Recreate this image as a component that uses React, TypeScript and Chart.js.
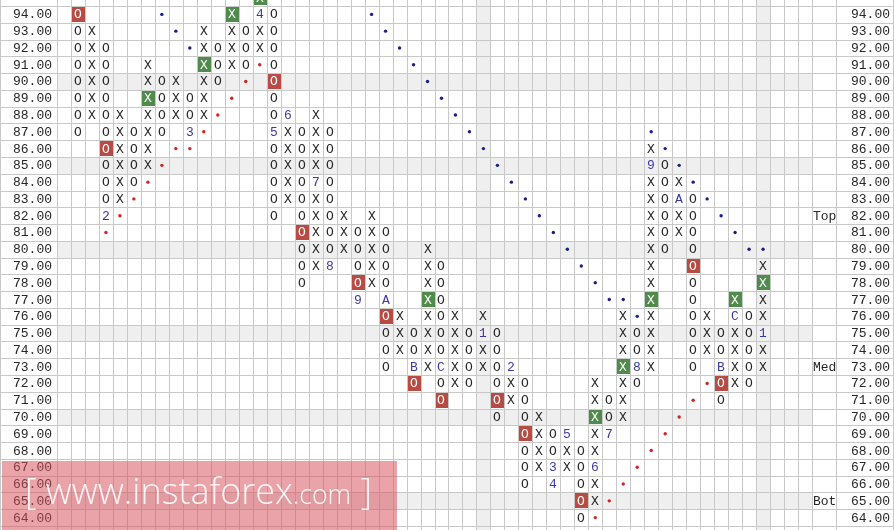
import { useEffect, useRef } from 'react';
import { Chart, registerables } from 'chart.js';

Chart.register(...registerables);

// Price levels (rows) shown on both axes
const priceLevels = [94, 93, 92, 91, 90, 89, 88, 87, 86, 85, 84, 83, 82, 81, 80, 79, 78, 77, 76, 75, 74, 73, 72, 71, 70, 69, 68, 67, 66, 65, 64];

// Point & figure columns: top price of each column and its cells from the top down.
// X / O = normal marks, x = highlighted X (green box), o = highlighted O (red box),
// digits / letters = month markers that replace a mark.
const columnTops = [0, 94, 93, 92, 88, 87, 91, 90, 90, 89, 93, 92, 94, 93, 95, 94, 88, 87, 88, 87, 82, 81, 82, 81, 76, 75, 80, 79, 76, 75, 76, 75, 73, 72, 70, 69, 69, 68, 72, 71, 76, 75, 86, 85, 84, 83, 76, 75, 77, 76, 79];
const columnCells = [
  '', 'oOOOOOOO', 'XXXXXX', 'OOOOOOoOOO2', 'XXXXXX', 'OOOO', 'XXxXXXX', 'OOOO', 'XXX', 'OO3',
  'XXxXXX', 'OOO', 'xXXX', 'OOO', 'x4XX', 'OOOOoOO5OOOOO', '6XXXXX', 'OOOOOOoOOO', 'XXXX7XXXXX', 'OOOOOOOO8',
  'XXX', 'OOOo9', 'XXXXX', 'OOOOAoOOO', 'XXX', 'OOBo', 'XXXxXXXX', 'OOOOOOCOo', 'XXXXX', 'OOOO',
  'X1XX', 'OOOOoO', '2XX', 'OOOoOOO', 'XXXX', 'OO34', '5XX', 'OOOoO', 'XXxXX6XX', 'OO7',
  'XXXxXXX', 'OO8O', 'X9XXXXXXXxXXXX', 'OOOOOO', 'XAXX', 'OOOOoOOOOOO', 'XXX', 'OOBoO', 'xCXXXX', 'OOOOO',
  'XxXX1XX',
];

// Trend line dots [column, price]
const resistanceDots: [number, number][] = [
  [7, 94], [8, 93], [9, 92],
  [22, 94], [23, 93], [24, 92], [25, 91], [26, 90], [27, 89], [28, 88], [29, 87], [30, 86], [31, 85], [32, 84],
  [33, 83], [34, 82], [35, 81], [36, 80], [37, 79], [38, 78], [39, 77], [40, 77], [41, 76],
  [42, 87], [43, 86], [44, 85], [45, 84], [46, 83], [47, 82], [48, 81], [49, 80], [50, 80],
];
const supportDots: [number, number][] = [
  [3, 81], [4, 82], [5, 83], [6, 84], [7, 85], [8, 86], [9, 86], [10, 87], [11, 88], [12, 89], [13, 90], [14, 91],
  [38, 64], [39, 65], [40, 66], [41, 67], [42, 68], [43, 69], [44, 70], [45, 71], [46, 72],
];

const shadedRows = [90, 85, 80, 75, 70, 65];
const shadedCols = [30, 50];
const zoneLabels: [string, number][] = [['Top', 82], ['Med', 73], ['Bot', 65]];
const columnCount = 54;

const MONO = "'Liberation Mono', 'Courier New', monospace";

type Cell = { x: number; y: number; s: string };
const allCells: Cell[] = [];
columnCells.forEach((str, c) => {
  const top = columnTops[c];
  str.split('').forEach((s, i) => allCells.push({ x: c, y: top - i, s }));
});

const glyphKinds: Record<string, { color: string; bg?: string; text?: string }> = {
  X: { color: '#262626' },
  O: { color: '#262626' },
  green: { color: '#ffffff', bg: '#4f8b4b', text: 'X' },
  red: { color: '#ffffff', bg: '#b84c45', text: 'O' },
  month: { color: '#3a3aa6' },
};

const pnfPlugin = {
  id: 'pnf',
  beforeDraw(chart: any) {
    const { ctx, chartArea: a, scales } = chart;
    const x = scales.x, y = scales.y;
    const W = chart.width, H = chart.height;
    ctx.save();
    ctx.fillStyle = '#ffffff';
    ctx.fillRect(0, 0, W, H);
    ctx.fillStyle = '#efefef';
    for (const p of shadedRows) {
      const y0 = Math.round(y.getPixelForValue(p + 0.5));
      const y1 = Math.round(y.getPixelForValue(p - 0.5));
      ctx.fillRect(a.left, y0, a.right - a.left, y1 - y0);
    }
    for (const c of shadedCols) {
      const x0 = Math.round(x.getPixelForValue(c - 0.5));
      const x1 = Math.round(x.getPixelForValue(c + 0.5));
      ctx.fillRect(x0, 0, x1 - x0, H);
    }
    ctx.strokeStyle = '#c8c8c8';
    ctx.lineWidth = 1;
    ctx.beginPath();
    for (let p = 63; p <= 95; p++) {
      const yy = Math.round(y.getPixelForValue(p + 0.5)) + 0.5;
      ctx.moveTo(0, yy);
      ctx.lineTo(W, yy);
    }
    for (let c = 0; c <= columnCount; c++) {
      const xx = Math.round(x.getPixelForValue(c - 0.5)) + 0.5;
      ctx.moveTo(xx, 0);
      ctx.lineTo(xx, H);
    }
    const edges = [0.5, Math.round(a.right + 24) + 0.5, W - 0.5];
    for (const e of edges) {
      ctx.moveTo(e, 0);
      ctx.lineTo(e, H);
    }
    ctx.stroke();

    // price labels on both sides, positioned by the y scale
    ctx.font = `13px ${MONO}`;
    ctx.fillStyle = '#262626';
    ctx.textBaseline = 'middle';
    for (const p of priceLevels) {
      const yy = Math.round(y.getPixelForValue(p)) + 0.5;
      const label = p.toFixed(2);
      ctx.textAlign = 'right';
      ctx.fillText(label, a.left - 5, yy);
      ctx.fillText(label, W - 4, yy);
    }
    ctx.restore();
  },
  afterDatasetsDraw(chart: any) {
    const { ctx, scales } = chart;
    const x = scales.x, y = scales.y;
    ctx.save();
    ctx.font = `13px ${MONO}`;
    ctx.textAlign = 'center';
    ctx.textBaseline = 'middle';
    chart.data.datasets.forEach((ds: any, i: number) => {
      const kind = ds.glyph ? glyphKinds[ds.glyph] : null;
      if (!kind) return;
      const meta = chart.getDatasetMeta(i);
      meta.data.forEach((el: any, j: number) => {
        const raw = ds.data[j];
        if (kind.bg) {
          const x0 = Math.round(x.getPixelForValue(raw.x - 0.5)) + 1;
          const x1 = Math.round(x.getPixelForValue(raw.x + 0.5));
          const y0 = Math.round(y.getPixelForValue(raw.y + 0.5)) + 1;
          const y1 = Math.round(y.getPixelForValue(raw.y - 0.5)) - 1;
          ctx.fillStyle = kind.bg;
          ctx.fillRect(x0, y0, x1 - x0, y1 - y0);
        }
        ctx.fillStyle = kind.color;
        ctx.fillText(kind.text || raw.s, Math.round(el.x), Math.round(el.y) + 0.5);
      });
    });
    ctx.restore();
  },
  afterDraw(chart: any) {
    const { ctx, chartArea: a, scales } = chart;
    const y = scales.y;
    ctx.save();
    ctx.font = `13px ${MONO}`;
    ctx.fillStyle = '#262626';
    ctx.textAlign = 'left';
    ctx.textBaseline = 'middle';
    for (const [t, p] of zoneLabels) {
      ctx.fillText(t, a.right + 1, Math.round(y.getPixelForValue(p)) + 0.5);
    }
    // watermark
    ctx.fillStyle = 'rgba(214, 78, 88, 0.52)';
    ctx.fillRect(2, 461, 395, 69);
    const parts: [string, number][] = [['[ www.instaforex', 1], ['.com', 0.74], [' ]', 1]];
    const base = 36;
    let total = 0;
    for (const [s, k] of parts) {
      ctx.font = `300 ${base * k}px 'Open Sans', 'Noto Sans', sans-serif`;
      total += ctx.measureText(s).width;
    }
    const scale = 347 / total;
    let xx = 25;
    ctx.fillStyle = 'rgba(255, 255, 255, 0.88)';
    ctx.textBaseline = 'alphabetic';
    for (const [s, k] of parts) {
      ctx.font = `300 ${base * k * scale}px 'Open Sans', 'Noto Sans', sans-serif`;
      ctx.fillText(s, xx, 504);
      xx += ctx.measureText(s).width;
    }
    ctx.restore();
  },
};

export default function App() {
  const ref = useRef<HTMLCanvasElement>(null);
  useEffect(() => {
    const pick = (f: (c: Cell) => boolean) => allCells.filter(f).map((c) => ({ ...c }));
    const chart = new Chart(ref.current!, {
      type: 'scatter',
      data: {
        datasets: [
          { label: 'X', glyph: 'X', data: pick((c) => c.s === 'X'), pointRadius: 0 } as any,
          { label: 'O', glyph: 'O', data: pick((c) => c.s === 'O'), pointRadius: 0 } as any,
          { label: 'X reversal', glyph: 'green', data: pick((c) => c.s === 'x'), pointRadius: 0 } as any,
          { label: 'O reversal', glyph: 'red', data: pick((c) => c.s === 'o'), pointRadius: 0 } as any,
          { label: 'Month', glyph: 'month', data: pick((c) => !'XOxo'.includes(c.s)), pointRadius: 0 } as any,
          {
            label: 'Resistance',
            data: resistanceDots.map(([c, p]) => ({ x: c, y: p })),
            pointRadius: 1.7,
            borderWidth: 0,
            backgroundColor: '#1b1f85',
          },
          {
            label: 'Support',
            data: supportDots.map(([c, p]) => ({ x: c, y: p })),
            pointRadius: 1.7,
            borderWidth: 0,
            backgroundColor: '#d02424',
          },
        ],
      },
      options: {
        responsive: false,
        animation: false,
        devicePixelRatio: 1,
        events: [],
        layout: { padding: { left: 57, right: 82, top: 0, bottom: 0 } },
        plugins: { legend: { display: false }, tooltip: { enabled: false } },
        scales: {
          x: { type: 'linear', min: -0.5, max: columnCount - 0.5, display: false },
          y: { type: 'linear', min: 63.5, max: 94.62, display: false },
        },
      } as any,
      plugins: [pnfPlugin],
    });
    return () => chart.destroy();
  }, []);
  return (
    <div style={{ position: 'fixed', left: 0, top: 0, width: 894, height: 530, background: '#fff' }}>
      <canvas ref={ref} width={894} height={530} style={{ display: 'block' }} />
    </div>
  );
}
